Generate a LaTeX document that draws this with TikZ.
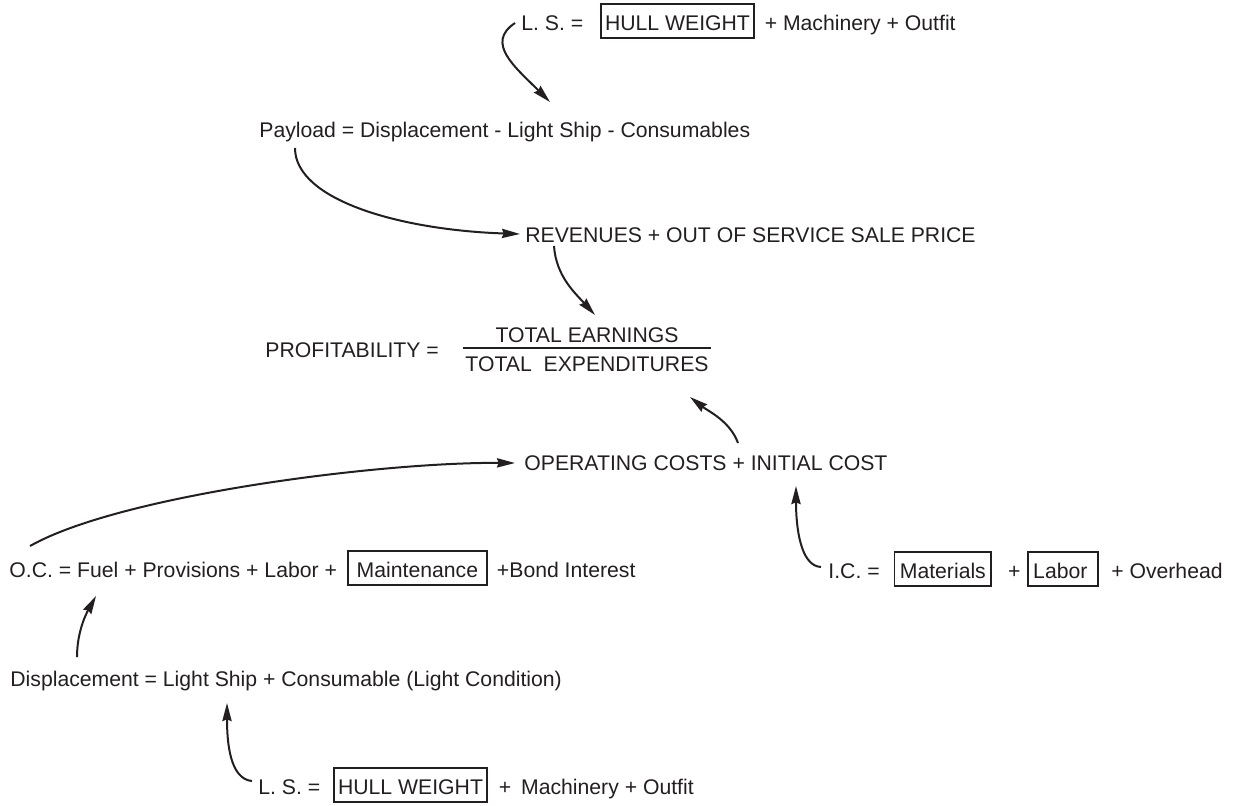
\documentclass[tikz,border=0pt]{standalone}
\usepackage{fontspec}
\setmainfont{Liberation Sans}
\usepackage{tikz}
\usetikzlibrary{arrows.meta,calc}

\definecolor{ink}{HTML}{231F20}
\newcommand{\bx}[2][2pt]{{\setlength{\fboxsep}{0pt}\setlength{\fboxrule}{0.9pt}\fbox{\hspace{#1}\rule[-3.6pt]{0pt}{16.3pt}#2\hspace{#1}}}}

\begin{document}
\begin{tikzpicture}[x=0.5pt,y=-0.5pt,
    every node/.style={inner sep=0pt,text=ink,font=\fontsize{10.6}{13}\selectfont},
    txt/.style={anchor=base west},
    link/.style={draw=ink,line width=1pt,-{Stealth[length=9pt,width=4.6pt,inset=0.8pt]}}]
    \useasboundingbox (0,0) rectangle (1235,805);

    \node[txt] (lsTop) at (521,30) {L. S. =\hspace{8.5pt}\bx[1.5pt]{HULL WEIGHT}\hspace{5pt}+ Machinery + Outfit};
    \node[txt] (payload) at (259,137) {Payload = Displacement - Light Ship - Consumables};
    \node[txt] (revenue) at (525,242) {REVENUES + OUT OF SERVICE SALE PRICE};
    \node[txt] (profit) at (265,357) {PROFITABILITY =};
    \node[anchor=base] (earn) at (587,342) {TOTAL EARNINGS};
    \node[anchor=base] (expend) at (587,371) {TOTAL\ \ EXPENDITURES};
    \node[txt] (opcost) at (524,470) {OPERATING COSTS + INITIAL COST};
    \node[txt] (oc) at (9,577) {O.C. = Fuel + Provisions + Labor +\hspace{5pt}\bx[4pt]{Maintenance}\hspace{4.5pt}+Bond Interest};
    \node[txt] (ic) at (828,578) {I.C. =\hspace{7pt}\bx[2.2pt]{Materials}\hspace{8pt}+\hspace{3.5pt}\bx[2pt]{Labor\hspace{3pt}}\hspace{6pt}+ Overhead};
    \node[txt] (displ) at (10,686) {Displacement = Light Ship + Consumable (Light Condition)};
    \node[txt] (lsBot) at (258,794) {L. S. =\hspace{6.5pt}\bx[1.5pt]{HULL WEIGHT}\hspace{5.5pt}+\hspace{5pt}Machinery + Outfit};

    % fraction bar
    \draw[ink,line width=1pt] ($(expend.north west)+(-2,-8)$) -- ($(expend.north east)+(2,-8)$);

    \draw[link] ($(lsTop.base west)+(-6,-7)$) .. controls +(-30,20) and +(-35,-35) .. ($(payload.base west)+(291,-35)$);
    \draw[link] ($(payload.base west)+(36,11)$) .. controls +(0,52) and +(-120,-4) .. ($(revenue.base west)+(-5,-8)$);
    \draw[link] ($(revenue.base west)+(29,4)$) .. controls +(2,30) and +(-20,-22) .. ($(earn.base)+(8,-27)$);
    \draw[link] ($(opcost.base west)+(214,-27)$) .. controls +(-8,-22) and +(18,14) .. ($(expend.base)+(103,26)$);
    \draw[link] ($(oc.base west)+(21,-31)$) .. controls +(90,-51) and +(-135,-1) .. ($(opcost.base west)+(-9,-7)$);
    \draw[link] ($(displ.base west)+(67,-29)$) .. controls +(0,-25) and +(-10,18) .. ($(oc.base west)+(87,19)$);
    \draw[link] ($(ic.base west)+(-7,-11)$) .. controls +(-21,-1) and +(0,40) .. ($(opcost.base west)+(272,16)$);
    \draw[link] ($(lsBot.base west)+(-6,-13)$) .. controls +(-22,-2) and +(0,40) .. ($(displ.base west)+(217,17)$);
\end{tikzpicture}
\end{document}
